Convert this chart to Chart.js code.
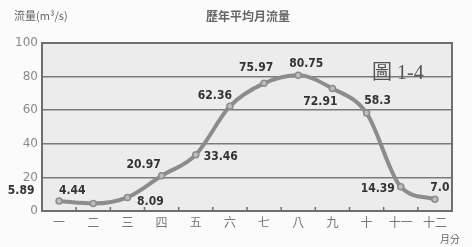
<!DOCTYPE html>
<html>
<head>
<meta charset="utf-8">
<script src="https://cdn.jsdelivr.net/npm/chart.js@4"></script>
<style>
  html, body { margin: 0; padding: 0; background: #fbfbfb; }
  #wrap { width: 472px; height: 247px; }
</style>
</head>
<body>
<div id="wrap"><canvas id="flowChart" width="472" height="247"></canvas></div>
<script>
var months = ['一', '二', '三', '四', '五', '六', '七', '八', '九', '十', '十一', '十二'];
var flow = [5.89, 4.44, 8.09, 20.97, 33.46, 62.36, 75.97, 80.75, 72.91, 58.3, 14.39, 7.0];
var flowText = ['5.89', '4.44', '8.09', '20.97', '33.46', '62.36', '75.97', '80.75', '72.91', '58.3', '14.39', '7.0'];
var yTicks = [0, 20, 40, 60, 80, 100];

var cjk = '"Noto Sans CJK TC", "Noto Sans CJK SC", sans-serif';

// where each value is written relative to its point (dx, dy)
var labelOffsets = [
    [-38, -10], [-21, -13], [23, 4], [-18, -11], [25, 2], [-15, -10],
    [-8, -15], [8, -11], [-12, 13], [11, -12], [-23, 2], [5, -11]
];

var decorations = {
    id: 'decorations',
    beforeDraw: function(chart) {
        var c = chart.ctx, a = chart.chartArea;
        c.save();
        c.fillStyle = '#ececec';
        c.fillRect(a.left, a.top, a.right - a.left, a.bottom - a.top);
        c.restore();
    },
    afterDatasetsDraw: function(chart) {
        var c = chart.ctx, a = chart.chartArea;
        var x = chart.scales.x;
        c.save();
        // frame
        c.strokeStyle = '#6f6f6f';
        c.lineWidth = 2;
        c.strokeRect(a.left, a.top, a.right - a.left, a.bottom - a.top);
        // inward ticks on the x axis
        c.lineWidth = 1.5;
        for (var i = 1; i < months.length; i++) {
            var px = (x.getPixelForValue(i - 1) + x.getPixelForValue(i)) / 2;
            c.beginPath();
            c.moveTo(px, a.bottom);
            c.lineTo(px, a.bottom - 4);
            c.stroke();
        }
        // value labels
        var meta = chart.getDatasetMeta(0);
        c.fillStyle = '#333';
        c.font = 'bold 12px "DejaVu Sans Condensed", "Liberation Sans Narrow", sans-serif';
        c.textAlign = 'center';
        c.textBaseline = 'middle';
        meta.data.forEach(function(pt, i) {
            c.fillText(flowText[i], pt.x + labelOffsets[i][0], pt.y + labelOffsets[i][1]);
        });
        // figure tag
        c.fillStyle = '#555';
        c.font = '20px "Liberation Serif", "Noto Sans CJK TC", serif';
        c.textAlign = 'left';
        c.fillText('圖 1-4', 372, 74);
        c.restore();
    },
    afterDraw: function(chart) {
        var c = chart.ctx;
        c.save();
        c.fillStyle = '#666';
        c.textBaseline = 'middle';
        c.font = '11px ' + cjk;
        c.textAlign = 'left';
        c.fillText('流量(m³/s)', 14, 16);
        c.font = 'bold 12px ' + cjk;
        c.textAlign = 'center';
        c.fillText('歷年平均月流量', 248, 16);
        c.font = '10px ' + cjk;
        c.fillText('月分', 450, 239);
        c.restore();
    }
};

var ctx = document.getElementById('flowChart').getContext('2d');
var flowChart = new Chart(ctx, {
    type: 'line',
    data: {
        labels: months,
        datasets: [{
            data: flow,
            borderColor: '#8c8c8c',
            borderWidth: 4,
            cubicInterpolationMode: 'monotone',
            pointRadius: 3,
            pointBackgroundColor: '#bdbdbd',
            pointBorderColor: '#8c8c8c',
            pointBorderWidth: 1.5
        }]
    },
    options: {
        responsive: false,
        animation: false,
        layout: { padding: { top: 43, right: 20, left: 0, bottom: 0 } },
        plugins: {
            legend: { display: false },
            tooltip: { enabled: false }
        },
        scales: {
            x: {
                offset: true,
                grid: { display: false, drawTicks: false },
                border: { display: false },
                ticks: {
                    color: '#777',
                    padding: 4,
                    maxRotation: 0,
                    autoSkip: false,
                    font: { family: cjk, size: 12 }
                },
                afterFit: function(s) { s.height = 36; }
            },
            y: {
                min: 0,
                max: 100,
                afterBuildTicks: function(s) {
                    s.ticks = yTicks.map(function(v) { return { value: v }; });
                },
                grid: { color: '#7a7a7a', lineWidth: 1.5, drawTicks: false },
                border: { display: false },
                ticks: {
                    color: '#8a8a8a',
                    padding: 4,
                    font: { family: '"DejaVu Sans", sans-serif', size: 12 }
                },
                afterFit: function(s) { s.width = 42; }
            }
        }
    },
    plugins: [decorations]
});
</script>
</body>
</html>
